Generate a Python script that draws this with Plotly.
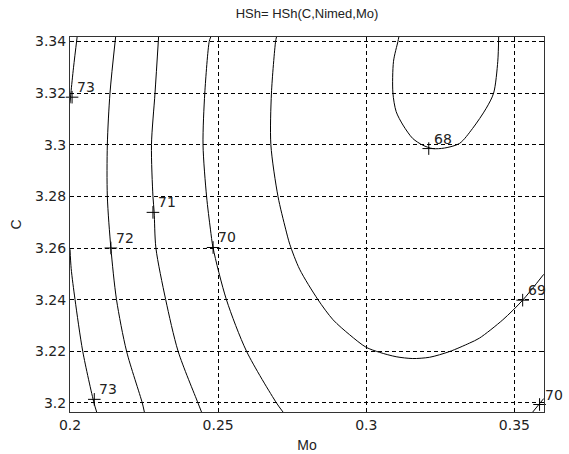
import plotly.graph_objects as go

# ---- data ----
mo_73a = [0.2024, 0.2012, 0.2003, 0.2000]
c_73a = [3.3417, 3.3300, 3.3200, 3.3160]

mo_73b = [0.2000, 0.2004, 0.2017, 0.2043, 0.2081, 0.2090]
c_73b = [3.2595, 3.2520, 3.2400, 3.2200, 3.2000, 3.1965]

mo_72 = [0.2154, 0.2135, 0.2126, 0.2126, 0.2138, 0.2157, 0.2191, 0.2244, 0.2251]
c_72 = [3.3417, 3.3200, 3.3000, 3.2800, 3.2600, 3.2400, 3.2200, 3.2000, 3.1965]

mo_71 = [0.2299, 0.2287, 0.2275, 0.2280, 0.2284, 0.2290, 0.2323, 0.2365, 0.2432, 0.2444]
c_71 = [3.3417, 3.3200, 3.3000, 3.2800, 3.2740, 3.2600, 3.2400, 3.2200, 3.2000, 3.1965]

mo_70a = [0.2475, 0.2470, 0.2455, 0.2449, 0.2461, 0.2474, 0.2483, 0.2528, 0.2596, 0.2697, 0.2719]
c_70a = [3.3417, 3.3400, 3.3200, 3.3000, 3.2800, 3.2673, 3.2600, 3.2400, 3.2200, 3.2000, 3.1965]

mo_69 = [0.2697, 0.2694, 0.2680, 0.2678, 0.2702, 0.2728, 0.2742, 0.2775, 0.2837,
         0.2888, 0.2944, 0.2999, 0.3045, 0.3101, 0.3157, 0.3214, 0.3281, 0.3349,
         0.3382, 0.3461, 0.3528, 0.3599]
c_69 = [3.3417, 3.3400, 3.3200, 3.3000, 3.2800, 3.2673, 3.2614, 3.2518, 3.2400,
        3.2322, 3.2264, 3.2216, 3.2196, 3.2179, 3.2172, 3.2177, 3.2199, 3.2232,
        3.2251, 3.2322, 3.2398, 3.2498]

mo_68 = [0.3110, 0.3107, 0.3092, 0.3090, 0.3101, 0.3124, 0.3157, 0.3191, 0.3224,
         0.3264, 0.3315, 0.3359, 0.3405, 0.3430, 0.3444, 0.3447]
c_68 = [3.3417, 3.3400, 3.3323, 3.3200, 3.3128, 3.3076, 3.3024, 3.2998, 3.2985,
        3.2987, 3.3005, 3.3063, 3.3141, 3.3200, 3.3323, 3.3417]

mo_70b = [0.3562, 0.3599]
c_70b = [3.1965, 3.2017]

contours = [(mo_73a, c_73a), (mo_73b, c_73b), (mo_72, c_72), (mo_71, c_71),
            (mo_70a, c_70a), (mo_69, c_69), (mo_68, c_68), (mo_70b, c_70b)]

label_text = ["73", "73", "72", "71", "70", "68", "69", "70"]
label_mo = [0.2007, 0.2082, 0.2138, 0.2280, 0.2483, 0.3211, 0.3528, 0.3585]
label_c = [3.3184, 3.2014, 3.2600, 3.2738, 3.2602, 3.2985, 3.2398, 3.1994]

x_ticks = [0.2, 0.25, 0.3, 0.35]
x_ticktext = ["0.2", "0.25", "0.3", "0.35"]
y_ticks = [3.2, 3.22, 3.24, 3.26, 3.28, 3.3, 3.32, 3.34]
y_ticktext = ["3.2", "3.22", "3.24", "3.26", "3.28", "3.3", "3.32", "3.34"]

FONT = "Liberation Sans, Arial, sans-serif"
NUMFONT = "DejaVu Sans, sans-serif"

fig = go.Figure()
for mo, c in contours:
    fig.add_trace(go.Scatter(x=mo, y=c, mode="lines",
                             line=dict(color="black", width=1, shape="spline", smoothing=0.8),
                             hoverinfo="skip", showlegend=False))

fig.add_trace(go.Scatter(x=label_mo, y=label_c, mode="markers",
                         marker=dict(symbol="cross-thin", size=9,
                                     line=dict(color="black", width=1)),
                         showlegend=False, hoverinfo="skip", cliponaxis=False))

for t, xm, yc in zip(label_text, label_mo, label_c):
    fig.add_annotation(x=xm, y=yc, text=t, showarrow=False, xanchor="left",
                       yanchor="bottom", xshift=3, yshift=0,
                       font=dict(family=NUMFONT, size=14, color="#222"))

axis_common = dict(showgrid=True, gridcolor="black", griddash="4px,3px", gridwidth=1,
                   zeroline=False, showline=True, linecolor="#333", linewidth=1,
                   mirror="ticks", ticks="inside", ticklen=4, tickcolor="black",
                   automargin=False,
                   tickfont=dict(family=NUMFONT, size=14, color="#222"))

fig.update_xaxes(range=[0.2, 0.36], tickmode="array", tickvals=x_ticks,
                 ticktext=x_ticktext,
                 title=dict(text="Mo", font=dict(family=FONT, size=14, color="#222"),
                            standoff=8),
                 **axis_common)
fig.update_yaxes(range=[3.1965, 3.3417], tickmode="array", tickvals=y_ticks,
                 ticktext=y_ticktext,
                 title=dict(text="C", font=dict(family=FONT, size=14, color="#222"),
                            standoff=10),
                 **axis_common)

fig.update_layout(
    width=569, height=454,
    margin=dict(l=70, r=25, t=37, b=42, autoexpand=False),
    paper_bgcolor="white", plot_bgcolor="white",
    title=dict(text="HSh= HSh(C,Nimed,Mo)", x=307 / 569, xanchor="center",
               y=1 - 13 / 454, yanchor="middle", yref="container",
               font=dict(family=FONT, size=13, color="#222")),
    font=dict(family=FONT, size=13, color="#222"),
)

fig.write_html("out.html")
